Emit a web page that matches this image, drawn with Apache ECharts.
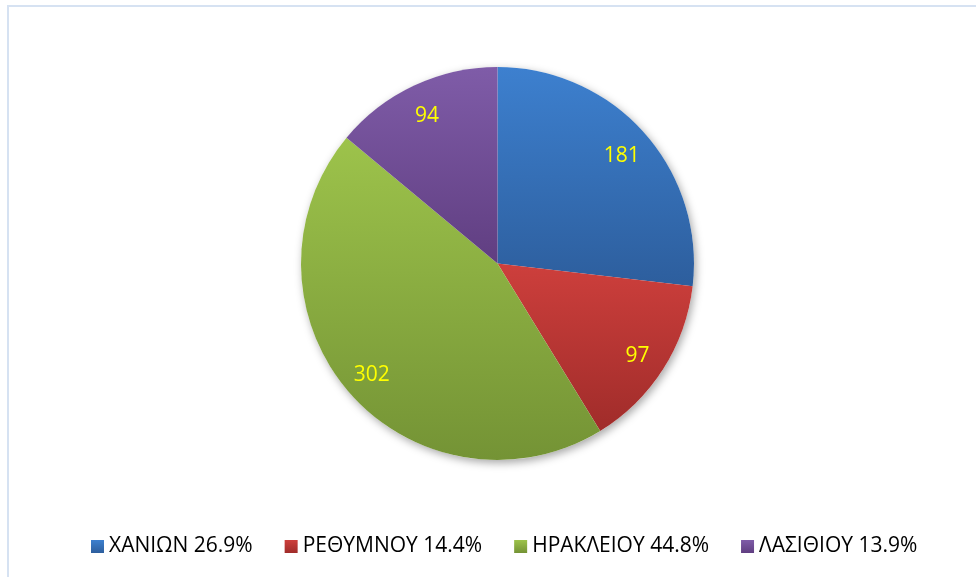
<!DOCTYPE html>
<html>
<head>
<meta charset="utf-8">
<script src="https://cdn.jsdelivr.net/npm/echarts@6/dist/echarts.min.js"></script>
<style>
html, body { margin: 0; padding: 0; background: #fff; }
#frame {
  position: absolute;
  left: 7px;
  top: 5px;
  width: 1000px;
  height: 600px;
  border-left: 2px solid #d6e2f2;
  border-top: 2px solid #d6e2f2;
}
#main { position: absolute; left: 0; top: 0; width: 976px; height: 577px; }
</style>
</head>
<body>
<div id="frame"></div>
<div id="main"></div>
<script>
// prefectures of Crete
var names = ['ΧΑΝΙΩΝ', 'ΡΕΘΥΜΝΟΥ', 'ΗΡΑΚΛΕΙΟΥ', 'ΛΑΣΙΘΙΟΥ']
var values = [181, 97, 302, 94]
var percents = ['26.9%', '14.4%', '44.8%', '13.9%']
// top / bottom shade of each slice
var topColors = ['#3d80cf', '#cd3f3c', '#9dc34b', '#7f5ca8']
var bottomColors = ['#2d5e9d', '#a02c2a', '#749335', '#603e81']

var total = values.reduce(function (a, b) { return a + b }, 0)

function shade (i) {
  return new echarts.graphic.LinearGradient(0, 0, 0, 1, [
    {offset: 0, color: topColors[i]},
    {offset: 1, color: bottomColors[i]}
  ])
}

var center = [497.5, 263.5]
var radius = 196.5

var myChart = echarts.init(document.getElementById('main'))
myChart.setOption({
  animation: false,
  legend: {
    data: names,
    top: 531,
    left: 86,
    itemWidth: 13,
    itemHeight: 13,
    itemGap: 32,
    icon: 'rect',
    textStyle: {
      fontFamily: 'Open Sans',
      fontSize: 21,
      color: '#000'
    },
    formatter: function (name) {
      return name + ' ' + percents[names.indexOf(name)]
    }
  },
  series: [
    {
      name: 'shadow',
      type: 'pie',
      silent: true,
      center: center,
      radius: [0, radius],
      label: {show: false},
      itemStyle: {
        color: '#fff',
        shadowBlur: 8,
        shadowOffsetX: 2,
        shadowOffsetY: 3,
        shadowColor: 'rgba(0,0,0,0.35)'
      },
      data: [{name: 'total', value: total}]
    },
    {
      name: 'Νομοί',
      type: 'pie',
      center: center,
      radius: [0, radius],
      startAngle: 90,
      clockwise: true,
      label: {show: false},
      labelLine: {show: false},
      emphasis: {scale: false},
      data: names.map(function (n, i) {
        return {name: n, value: values[i], itemStyle: {color: shade(i)}}
      })
    },
    {
      name: 'labels',
      type: 'pie',
      silent: true,
      center: center,
      radius: [130, radius],
      startAngle: 90,
      clockwise: true,
      itemStyle: {color: 'rgba(0,0,0,0)'},
      label: {
        show: true,
        position: 'inside',
        formatter: '{c}',
        color: '#ffff00',
        fontFamily: 'Open Sans',
        fontSize: 21,
        offset: [0, 3]
      },
      labelLine: {show: false},
      data: names.map(function (n, i) {
        return {name: n, value: values[i]}
      })
    }
  ]
})
</script>
</body>
</html>
